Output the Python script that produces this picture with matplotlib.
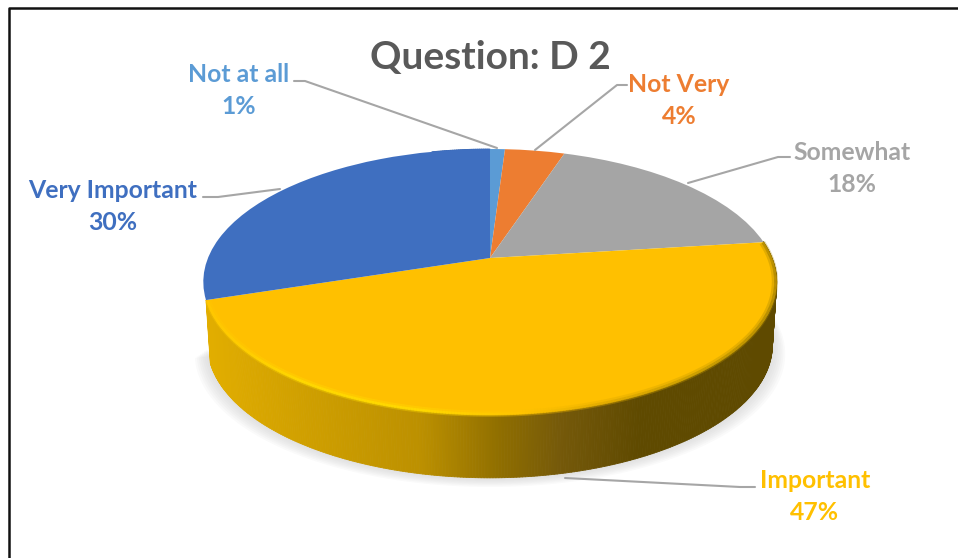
import numpy as np
import matplotlib
matplotlib.use('Agg')
import matplotlib.pyplot as plt
from matplotlib.collections import PolyCollection, LineCollection
from matplotlib.colors import to_rgb
from matplotlib.transforms import Transform

plt.rcParams['font.family'] = ['Lato', 'DejaVu Sans']

categories = ['Not at all', 'Not Very', 'Somewhat', 'Important', 'Very Important']
values = [1, 4, 18, 47, 30]
colors = ['#5B9BD5', '#ED7D31', '#A5A5A5', '#FFC000', '#3F6FC0']
label_pos = [(239, 75), (679, 85), (852, 152), (815, 480), (113, 190)]
leaders = [[(294, 81), (305, 81), (497, 148)],
           [(627, 85), (617, 85), (535, 150)],
           [(790, 157), (778, 157), (688, 183)],
           [(755, 487), (740, 487), (565, 478)],
           [(203, 197), (218, 197), (280, 189)]]

# pie tilt, in pixels of the final image
CX, CY, RX, RY, K = 490, 258, 282, 128.6, 0.18
DEPTH, BOTTOM_SCALE = 63, 0.985


def project(x, y):
    w = 1 + K * y
    return CX + RX * x / w, CY - RY * y / w


class Tilt(Transform):
    input_dims = output_dims = 2
    is_affine = False

    def transform_non_affine(self, xy):
        xy = np.asarray(xy, dtype=float)
        return np.column_stack(project(xy[:, 0], xy[:, 1]))


def rim(theta, r=1.0):
    return project(r * np.cos(np.radians(theta)), r * np.sin(np.radians(theta)))


def wall(theta):
    x, y = rim(theta)
    return x, y, CX + (x - CX) * BOTTOM_SCALE, y + DEPTH


def wall_strips(t1, t2, color_at):
    th = np.arange(t1, t2 + 0.5, 0.5)
    x, y, xb, yb = wall(th)
    polys = [[(x[i], y[i]), (x[i + 1], y[i + 1]), (xb[i + 1], yb[i + 1]), (xb[i], yb[i])]
             for i in range(len(th) - 1)]
    return PolyCollection(polys, facecolors=[color_at(v) for v in x[:-1]],
                          edgecolors='face', linewidths=0.6)


def gold_side(x):
    stops_x = [205, 300, 420, 500, 560, 640, 780]
    stops_c = ['#E2AE00', '#D0A000', '#BC9000', '#8F6E00', '#75590A', '#5F4A00', '#5F4A00']
    rgb = np.array([to_rgb(c) for c in stops_c])
    return tuple(np.interp(x, stops_x, rgb[:, i]) for i in range(3))


def bevel(x):
    stops_x = [205, 300, 420, 520, 600, 700, 780]
    stops_c = ['#FFC800', '#FFDC00', '#FFDC00', '#FFC400', '#E0AA00', '#C49A00', '#A98400']
    rgb = np.array([to_rgb(c) for c in stops_c])
    return tuple(np.interp(x, stops_x, rgb[:, i]) for i in range(3))


fig = plt.figure(figsize=(9.58, 5.58), dpi=100)
ax = fig.add_axes([0, 0, 1, 1])

wedges, _ = ax.pie(values, colors=colors, startangle=90, counterclock=False)
ax.set_aspect('auto')
ax.set_xlim(0, 958)
ax.set_ylim(558, 0)
ax.axis('off')

tilt = Tilt()
for w in wedges:
    w.set_transform(tilt + ax.transData)
    w.set_zorder(4)
    w.set_linewidth(0)

gold = wedges[categories.index('Important')]
blue = wedges[categories.index('Very Important')]

# soft shadow under the pie
th = np.linspace(gold.theta1 - 6, gold.theta2 + 6, 300)
for grow in np.linspace(13, 2, 7):
    x, y, xb, yb = wall(th)
    sx = CX + (xb - CX) * (1 + grow / 287)
    sy = yb + grow * 0.7
    ax.fill(sx, sy, color='#C8C8C8', alpha=0.09, lw=0, zorder=1)

# side of the pie
ax.add_collection(wall_strips(blue.theta1, blue.theta1 + 14, lambda v: '#3A68B4')).set_zorder(2)
ax.add_collection(wall_strips(gold.theta1, gold.theta2, gold_side)).set_zorder(3)

# lit edge along the front rim of the gold slice
th = np.arange(gold.theta1 + 0.5, gold.theta2, 0.5)
for r, lw, alpha in [(0.994, 4.5, 0.35), (0.996, 2, 0.8)]:
    x, y = rim(th, r)
    pts = np.column_stack([x, y])
    segs = np.stack([pts[:-1], pts[1:]], axis=1)
    lc = LineCollection(segs, colors=[bevel(v) for v in x[:-1]], linewidths=lw, alpha=alpha)
    lc.set_zorder(5)
    ax.add_collection(lc)

# leader lines
for pts in leaders:
    xs, ys = zip(*pts)
    ax.plot(xs, ys, color='#A6A6A6', lw=1.5, zorder=6, solid_capstyle='round')

ax.text(490, 57, 'Question: D 2', ha='center', va='center', fontsize=28,
        fontweight='bold', color='#595959')
for name, val, col, (lx, ly) in zip(categories, values, colors, label_pos):
    ax.text(lx, ly, name, ha='center', va='center', fontsize=17.8, fontweight='bold', color=col)
    ax.text(lx, ly + 32, '%d%%' % val, ha='center', va='center', fontsize=17.8,
            fontweight='bold', color=col)

# picture frame, cut off at the right and bottom of the screenshot
ax.plot([9, 9, 958], [558, 8, 8], color='#111111', lw=1.8, zorder=7)

fig.savefig('out.png', dpi=100)
